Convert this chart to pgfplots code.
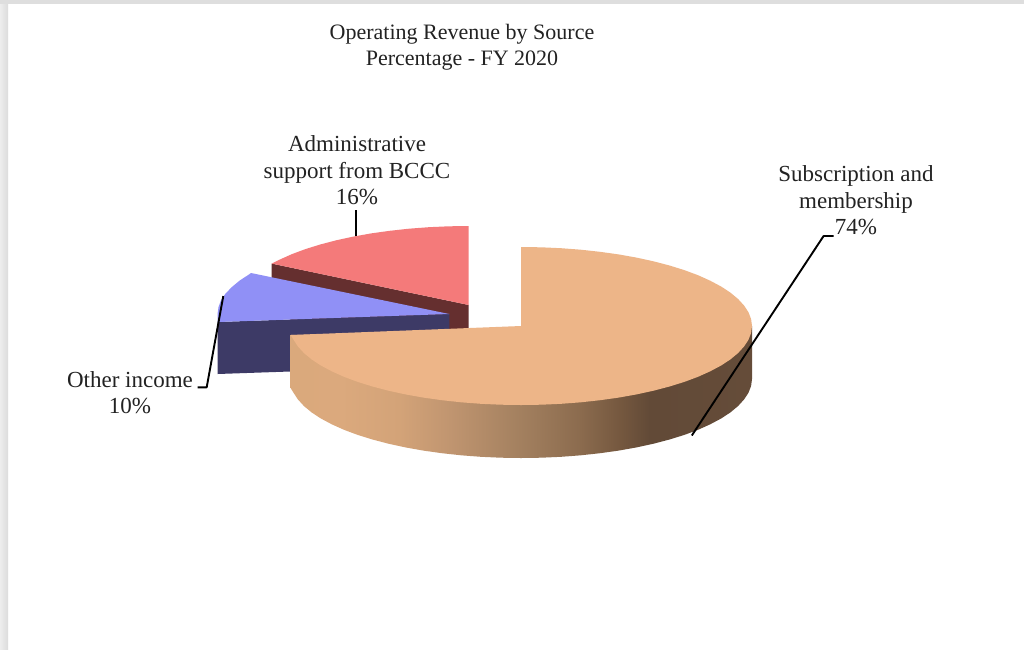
\documentclass[border=0pt]{standalone}
\usepackage{fontspec}
\setmainfont{Liberation Serif}
\usepackage{pgfplots}
\pgfplotsset{compat=1.18}
\definecolor{peachtop}{HTML}{EDB588}
\definecolor{bluetop}{HTML}{9090F6}
\definecolor{blueside}{HTML}{3D3A66}
\definecolor{redtop}{HTML}{F47A7A}
\definecolor{redside}{HTML}{652F2F}
\definecolor{ink}{HTML}{222222}
\tikzset{lbl/.style={font=\fontsize{23}{26.5}\selectfont, text=ink, align=center, inner sep=0pt},
         ttl/.style={font=\fontsize{22}{26}\selectfont, text=ink, align=center, inner sep=0pt}}
\pgfdeclarehorizontalshading{pieside}{100bp}{
 rgb(0bp)=(0.855,0.663,0.486);
 rgb(25bp)=(0.855,0.663,0.486);
 rgb(30.4bp)=(0.859,0.663,0.490);
 rgb(36.8bp)=(0.827,0.639,0.471);
 rgb(42.3bp)=(0.753,0.584,0.439);
 rgb(49.9bp)=(0.639,0.502,0.373);
 rgb(56.4bp)=(0.545,0.420,0.306);
 rgb(60.7bp)=(0.459,0.345,0.247);
 rgb(63.9bp)=(0.384,0.290,0.216);
 rgb(75bp)=(0.396,0.298,0.224);
 rgb(100bp)=(0.396,0.298,0.224)}
\begin{document}
\begin{tikzpicture}
\begin{axis}[
  scale only axis, width=1024pt, height=649pt,
  xmin=0, xmax=1024, ymin=0, ymax=649, y dir=reverse,
  axis lines=none, clip=true,
]
% page and its shadow
\addplot[fill=white, draw=none] coordinates {(0,0)(1024,0)(1024,649)(0,649)} -- cycle;
\addplot[left color=black!7, right color=black!14, draw=none] coordinates {(0,0)(8,0)(8,649)(0,649)} -- cycle;
\addplot[fill=black!13, draw=none] coordinates {(0,0)(1024,0)(1024,4)(0,4)} -- cycle;

% Administrative support from BCCC, 16%: cut face, then top
\addplot[fill=redside, draw=none] coordinates {(271.7,263.6)(271.7,315.6)(468.7,357)(468.7,305)} -- cycle;
\addplot[fill=redtop, draw=none] coordinates {
 (468.7,305)(271.7,263.6)(279.5,259.7)(291.7,254.2)(305.4,249.1)(320.2,244.5)(336.2,240.3)
 (353.2,236.6)(371.1,233.4)(389.7,230.8)(408.9,228.7)(428.6,227.2)(448.6,226.3)(468.7,226)} -- cycle;

% Other income, 10%: side, then top
\addplot[fill=blueside, draw=none] coordinates {(217.5,322)(217.5,374)(449.3,366)(449.3,314)} -- cycle;
\addplot[fill=bluetop, draw=none] coordinates {
 (449.3,314)(217.5,322)(217.5,314)(218.5,307)(221,300.3)(225.5,293.6)(231.9,287)(239.6,280.6)(248.9,274.5)(251,273)} -- cycle;

% Subscription and membership, 74%: rim, then top
\addplot[shading=pieside, draw=none] coordinates {
 (752,326)(752,379)(751.1,385.9)(748.5,392.7)(744.1,399.4)(738.1,406)(730.4,412.4)(721.1,418.5)(710.2,424.3)
 (698,429.8)(684.3,434.9)(669.5,439.5)(653.5,443.7)(636.5,447.4)(618.6,450.6)(600,453.2)(580.8,455.3)
 (561.1,456.8)(541.1,457.7)(521,458)(500.9,457.7)(480.9,456.8)(461.2,455.3)(442,453.2)(423.4,450.6)
 (405.5,447.4)(388.5,443.7)(372.5,439.5)(357.7,434.9)(344,429.8)(331.8,424.3)(320.9,418.5)(311.6,412.4)
 (303.9,406)(297.9,399.4)(293.5,392.7)(290.6,388)(290.6,335)} -- cycle;
\addplot[fill=peachtop, draw=none] coordinates {
 (521,326)(521,247)(541.1,247.3)(561.1,248.2)(580.8,249.7)(600,251.8)(618.6,254.4)(636.5,257.6)(653.5,261.3)
 (669.5,265.5)(684.3,270.1)(698,275.2)(710.2,280.7)(721.1,286.5)(730.4,292.6)(738.1,299)(744.1,305.6)
 (748.5,312.3)(751.1,319.1)(752,326)(751.1,332.9)(748.5,339.7)(744.1,346.4)(738.1,353)(730.4,359.4)
 (721.1,365.5)(710.2,371.3)(698,376.8)(684.3,381.9)(669.5,386.5)(653.5,390.7)(636.5,394.4)(618.6,397.6)
 (600,400.2)(580.8,402.3)(561.1,403.8)(541.1,404.7)(521,405)(500.9,404.7)(480.9,403.8)(461.2,402.3)
 (442,400.2)(423.4,397.6)(405.5,394.4)(388.5,390.7)(372.5,386.5)(357.7,381.9)(344,376.8)(331.8,371.3)
 (320.9,365.5)(311.6,359.4)(303.9,353)(297.9,346.4)(293.5,339.7)(290.6,335)} -- cycle;

% leader lines
\addplot[black, line width=1.9pt, line join=round] coordinates {(356,210)(356,236)};
\addplot[black, line width=1.9pt, line join=round] coordinates {(223.3,296)(206.7,387.3)(197.7,387.3)};
\addplot[black, line width=1.9pt, line join=round] coordinates {(833.7,236)(823.6,236)(691.8,435.5)};

% text
\node[ttl] at (axis cs:462,47) {Operating Revenue by Source\\Percentage - FY 2020};
\node[lbl] at (axis cs:357,170.5) {Administrative\\support from BCCC\\16\%};
\node[lbl] at (axis cs:856,200.5) {Subscription and\\membership\\74\%};
\node[lbl] at (axis cs:130,392.5) {Other income\\10\%};
\end{axis}
\end{tikzpicture}
\end{document}
